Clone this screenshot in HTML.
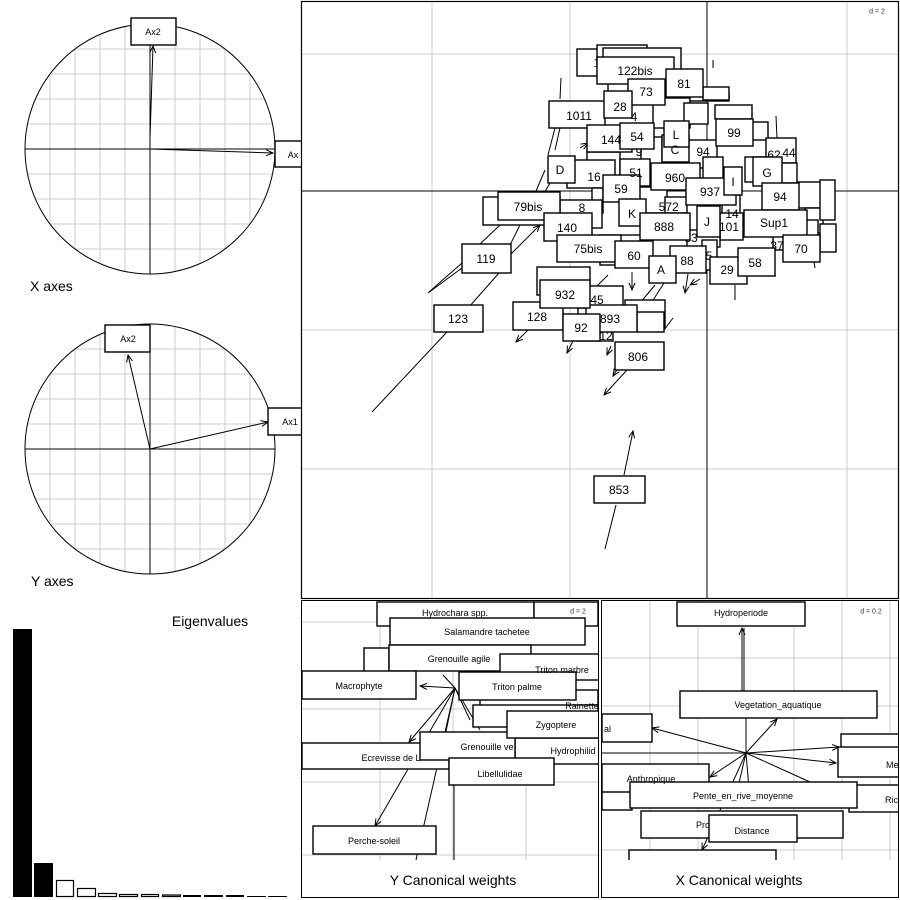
<!DOCTYPE html>
<html><head><meta charset="utf-8"><style>
html,body{margin:0;padding:0;background:#fff;}
svg{display:block;font-family:"Liberation Sans",sans-serif;}
.b{fill:#fff;stroke:#000;stroke-width:1.4}
.g{stroke:#ccc;stroke-width:1;fill:none}
.l{stroke:#000;stroke-width:1;fill:none}
.t{font-size:12px;text-anchor:middle;dominant-baseline:central}
.s{font-size:9px;text-anchor:middle;dominant-baseline:central}
</style></head><body>
<svg width="900" height="900" viewBox="0 0 900 900">
<defs>
<marker id="a" markerWidth="8" markerHeight="8" refX="7" refY="4" orient="auto" markerUnits="userSpaceOnUse"><path d="M0,1 L7,4 L0,7" fill="none" stroke="#000"/></marker>
<clipPath id="c1"><circle cx="150" cy="149" r="125"/></clipPath>
<clipPath id="c2"><circle cx="150" cy="449" r="125"/></clipPath>
<clipPath id="cm"><rect x="302" y="2" width="596" height="595"/></clipPath>
<clipPath id="cy"><rect x="302" y="601" width="296" height="259"/></clipPath>
<clipPath id="cx"><rect x="602" y="601" width="296" height="259"/></clipPath>
</defs>

<g clip-path="url(#c1)" class="g">
<path d="M50,0V300M75,0V300M100,0V300M125,0V300M175,0V300M200,0V300M225,0V300M250,0V300M0,49H300M0,74H300M0,99H300M0,124H300M0,174H300M0,199H300M0,224H300M0,249H300"/>
</g>
<circle cx="150" cy="149" r="125" class="l"/>
<path class="l" d="M25,149H275M150,24V274"/>
<line x1="150" y1="149" x2="273" y2="153" class="l" marker-end="url(#a)"/>
<line x1="150" y1="138" x2="153" y2="46" class="l" marker-end="url(#a)"/>
<rect x="131" y="18" width="45" height="27" class="b"/><text x="153" y="32" class="s">Ax2</text>
<rect x="275" y="141" width="30" height="26" class="b"/><text x="293" y="155" class="s">Ax</text>
<text x="30" y="286" font-size="14" dominant-baseline="central">X axes</text>

<g clip-path="url(#c2)" class="g">
<path d="M50,300V600M75,300V600M100,300V600M125,300V600M175,300V600M200,300V600M225,300V600M250,300V600M0,349H300M0,374H300M0,399H300M0,424H300M0,474H300M0,499H300M0,524H300M0,549H300"/>
</g>
<circle cx="150" cy="449" r="125" class="l"/>
<path class="l" d="M25,449H275M150,324V574"/>
<line x1="150" y1="449" x2="268" y2="422" class="l" marker-end="url(#a)"/>
<line x1="150" y1="449" x2="128" y2="355" class="l" marker-end="url(#a)"/>
<rect x="105" y="325" width="45" height="27" class="b"/><text x="128" y="339" class="s">Ax2</text>
<rect x="268" y="408" width="36" height="27" class="b"/><text x="290" y="422" class="s">Ax1</text>
<text x="31" y="581" font-size="14" dominant-baseline="central">Y axes</text>

<text x="210" y="621" font-size="14" text-anchor="middle" dominant-baseline="central">Eigenvalues</text>
<rect x="13" y="629" width="19" height="268" fill="#000"/>
<rect x="34" y="863" width="19" height="34" fill="#000"/>
<g fill="#fff" stroke="#000" stroke-width="1.2">
<rect x="56.5" y="880.5" width="17" height="16"/>
<rect x="77.5" y="888.5" width="18" height="8"/>
<rect x="98.5" y="893.5" width="18" height="3"/>
<rect x="119.5" y="894.5" width="18" height="2"/>
<rect x="141.5" y="894.5" width="17" height="2"/>
<rect x="162.5" y="895" width="18" height="1.5"/>
</g>
<g fill="#000"><rect x="183" y="895" width="18" height="2"/><rect x="204" y="895" width="19" height="2"/><rect x="226" y="895" width="18" height="2"/><rect x="247" y="896" width="19" height="1"/><rect x="268" y="896" width="19" height="1"/></g>

<rect x="301.5" y="1.5" width="597" height="597" fill="#fff" stroke="#000" stroke-width="1.2"/>
<path class="g" d="M432,2V598M570,2V598M847,2V598M302,54H898M302,330H898M302,469H898"/>
<path class="l" d="M707,2V598M302,191H898"/>
<text x="877" y="12" font-size="7" fill="#333" text-anchor="middle" dominant-baseline="central">d = 2</text>
<g clip-path="url(#cm)">
<g class="l">
<line x1="446" y1="333" x2="372" y2="412"/>
<line x1="499" y1="273" x2="446" y2="333"/>
<line x1="462" y1="263" x2="429" y2="292"/>
<line x1="462" y1="268" x2="428" y2="293"/>
<line x1="510" y1="255" x2="540" y2="225" marker-end="url(#a)"/>
<line x1="480" y1="244" x2="500" y2="225"/>
<line x1="510" y1="245" x2="520" y2="225"/>
<line x1="616" y1="505" x2="605" y2="549"/>
<line x1="624" y1="475" x2="633" y2="431" marker-end="url(#a)"/>
<line x1="550" y1="302" x2="514" y2="310"/>
<line x1="528" y1="330" x2="516" y2="342" marker-end="url(#a)"/>
<line x1="573" y1="341" x2="567" y2="353" marker-end="url(#a)"/>
<line x1="611" y1="346" x2="607" y2="355" marker-end="url(#a)"/>
<line x1="627" y1="370" x2="604" y2="395" marker-end="url(#a)"/>
<line x1="623" y1="360" x2="613" y2="376" marker-end="url(#a)"/>
<line x1="664" y1="330" x2="673" y2="318"/>
<line x1="688" y1="274" x2="685" y2="293" marker-end="url(#a)"/>
<line x1="700" y1="279" x2="690" y2="285" marker-end="url(#a)"/>
<line x1="632" y1="272" x2="632" y2="290" marker-end="url(#a)"/>
<line x1="664" y1="283" x2="650" y2="305"/>
<line x1="655" y1="285" x2="640" y2="303"/>
<line x1="735" y1="285" x2="735" y2="300"/>
<line x1="766" y1="276" x2="776" y2="276"/>
<line x1="814" y1="262" x2="815" y2="268"/>
<line x1="561" y1="78" x2="560" y2="99"/>
<line x1="713" y1="60" x2="713" y2="68"/>
<line x1="776" y1="116" x2="777" y2="138"/>
<line x1="555" y1="128" x2="548" y2="155"/>
<line x1="560" y1="128" x2="555" y2="150"/>
<line x1="545" y1="170" x2="536" y2="191"/>
<line x1="550" y1="183" x2="540" y2="200"/>
<line x1="600" y1="155" x2="606" y2="150" marker-end="url(#a)"/>
<line x1="580" y1="148" x2="588" y2="143" marker-end="url(#a)"/>
<line x1="608" y1="275" x2="595" y2="288"/>
</g>
<g class="b">
<rect x="577" y="49" width="40" height="27"/>
<rect x="597" y="45" width="50" height="20"/>
<rect x="603" y="48" width="78" height="26"/>
<rect x="608" y="76" width="22" height="22"/>
<rect x="653" y="98" width="37" height="30"/>
<rect x="684" y="103" width="24" height="21"/>
<rect x="690" y="93" width="39" height="8"/>
<rect x="703" y="87" width="26" height="13"/>
<rect x="715" y="105" width="37" height="14"/>
<rect x="752" y="122" width="16" height="18"/>
<rect x="766" y="138" width="30" height="25"/>
<rect x="745" y="157" width="28" height="25"/>
<rect x="781" y="163" width="16" height="20"/>
<rect x="797" y="182" width="25" height="26"/>
<rect x="805" y="208" width="18" height="25"/>
<rect x="820" y="224" width="16" height="28"/>
<rect x="641" y="137" width="21" height="28"/>
<rect x="688" y="140" width="29" height="28"/>
<rect x="703" y="157" width="20" height="30"/>
<rect x="587" y="152" width="33" height="25"/>
<rect x="567" y="160" width="48" height="28"/>
<rect x="592" y="188" width="11" height="25"/>
<rect x="638" y="187" width="29" height="26"/>
<rect x="665" y="197" width="22" height="16"/>
<rect x="722" y="195" width="18" height="32"/>
<rect x="720" y="213" width="23" height="27"/>
<rect x="687" y="230" width="33" height="17"/>
<rect x="702" y="240" width="15" height="30"/>
<rect x="537" y="267" width="53" height="28"/>
<rect x="573" y="286" width="50" height="20"/>
<rect x="625" y="300" width="40" height="28"/>
<rect x="637" y="312" width="27" height="20"/>
<rect x="578" y="308" width="35" height="33"/>
<rect x="483" y="197" width="77" height="28"/>
<rect x="560" y="200" width="42" height="28"/>
<rect x="600" y="235" width="45" height="30"/>
<rect x="773" y="220" width="45" height="30"/>
<rect x="820" y="180" width="15" height="40"/>
</g>
<g class="t" fill="#000">
<text x="597" y="63">1</text>
<text x="634" y="117">4</text>
<text x="639" y="152">9</text>
<text x="703" y="152">94</text>
<text x="774" y="155">62</text>
<text x="789" y="153">44</text>
<text x="662" y="207">5</text>
<text x="582" y="208">8</text>
<text x="732" y="214">14</text>
<text x="729" y="227">101</text>
<text x="691" y="238">83</text>
<text x="709" y="256">5</text>
<text x="777" y="246">37</text>
<text x="597" y="300">45</text>
<text x="606" y="336">12</text>
</g>
<g class="b">
<rect x="597" y="57" width="77" height="27"/>
<rect x="628" y="79" width="37" height="26"/>
<rect x="666" y="69" width="37" height="28"/>
<rect x="549" y="101" width="56" height="27"/>
<rect x="604" y="91" width="28" height="27"/>
<rect x="587" y="125" width="45" height="27"/>
<rect x="620" y="123" width="34" height="26"/>
<rect x="716" y="119" width="37" height="27"/>
<rect x="662" y="135" width="27" height="27"/>
<rect x="664" y="121" width="25" height="26"/>
<rect x="548" y="156" width="27" height="27"/>
<rect x="620" y="159" width="30" height="27"/>
<rect x="651" y="163" width="49" height="27"/>
<rect x="686" y="178" width="50" height="27"/>
<rect x="724" y="167" width="18" height="28"/>
<rect x="753" y="157" width="29" height="29"/>
<rect x="762" y="183" width="37" height="27"/>
<rect x="603" y="175" width="37" height="27"/>
<rect x="498" y="192" width="62" height="28"/>
<rect x="619" y="199" width="27" height="27"/>
<rect x="640" y="213" width="50" height="27"/>
<rect x="544" y="213" width="48" height="28"/>
<rect x="697" y="206" width="23" height="31"/>
<rect x="744" y="210" width="63" height="27"/>
<rect x="557" y="235" width="64" height="27"/>
<rect x="615" y="241" width="38" height="27"/>
<rect x="670" y="246" width="36" height="27"/>
<rect x="710" y="257" width="37" height="27"/>
<rect x="738" y="248" width="37" height="28"/>
<rect x="783" y="235" width="37" height="27"/>
<rect x="649" y="256" width="27" height="27"/>
<rect x="462" y="244" width="49" height="29"/>
<rect x="434" y="305" width="49" height="27"/>
<rect x="513" y="302" width="50" height="28"/>
<rect x="586" y="305" width="51" height="27"/>
<rect x="540" y="280" width="50" height="28"/>
<rect x="563" y="314" width="37" height="27"/>
<rect x="615" y="342" width="49" height="28"/>
<rect x="594" y="476" width="51" height="27"/>
</g>
<g class="t" fill="#000">
<text x="635" y="71">122bis</text>
<text x="646" y="92">73</text>
<text x="684" y="84">81</text>
<text x="579" y="116">1011</text>
<text x="620" y="107">28</text>
<text x="611" y="140">144</text>
<text x="637" y="137">54</text>
<text x="734" y="133">99</text>
<text x="675" y="150">C</text>
<text x="676" y="135">L</text>
<text x="560" y="170">D</text>
<text x="594" y="177">16</text>
<text x="636" y="173">51</text>
<text x="675" y="178">960</text>
<text x="710" y="192">937</text>
<text x="733" y="182">I</text>
<text x="767" y="173">G</text>
<text x="780" y="197">94</text>
<text x="621" y="189">59</text>
<text x="528" y="207">79bis</text>
<text x="632" y="214">K</text>
<text x="672" y="207">72</text>
<text x="664" y="227">888</text>
<text x="567" y="228">140</text>
<text x="707" y="222">J</text>
<text x="774" y="223">Sup1</text>
<text x="588" y="249">75bis</text>
<text x="634" y="256">60</text>
<text x="687" y="261">88</text>
<text x="727" y="270">29</text>
<text x="755" y="263">58</text>
<text x="801" y="249">70</text>
<text x="661" y="270">A</text>
<text x="486" y="259">119</text>
<text x="458" y="319">123</text>
<text x="537" y="317">128</text>
<text x="610" y="319">893</text>
<text x="565" y="295">932</text>
<text x="581" y="328">92</text>
<text x="638" y="357">806</text>
<text x="619" y="490">853</text>
</g>
</g>

<rect x="301.5" y="600.5" width="297" height="297" fill="#fff" stroke="#000" stroke-width="1"/>
<g clip-path="url(#cy)">
<path class="g" d="M380,601V860M453,601V860M526,601V860M302,622H598M302,709H598M302,782H598M302,855H598"/>
<g class="l">
<line x1="455" y1="688" x2="420" y2="686" marker-end="url(#a)"/>
<line x1="455" y1="688" x2="409" y2="742" marker-end="url(#a)"/>
<line x1="455" y1="688" x2="375" y2="826" marker-end="url(#a)"/>
<line x1="455" y1="688" x2="416" y2="860"/>
<line x1="455" y1="688" x2="440" y2="760"/>
<line x1="455" y1="688" x2="480" y2="730"/>
<line x1="455" y1="688" x2="470" y2="720"/>
<line x1="454" y1="785" x2="454" y2="860"/>
<line x1="455" y1="688" x2="443" y2="675"/>
</g>
<g class="b">
<rect x="377" y="602" width="157" height="24"/>
<rect x="534" y="602" width="64" height="24"/>
<rect x="390" y="618" width="195" height="27"/>
<rect x="364" y="648" width="25" height="24"/>
<rect x="389" y="645" width="142" height="26"/>
<rect x="500" y="654" width="99" height="26"/>
<rect x="302" y="671" width="114" height="28"/>
<rect x="480" y="690" width="118" height="30"/>
<rect x="473" y="705" width="125" height="22"/>
<rect x="459" y="672" width="117" height="28"/>
<rect x="302" y="743" width="147" height="26"/>
<rect x="515" y="738" width="84" height="26"/>
<rect x="420" y="732" width="95" height="28"/>
<rect x="507" y="711" width="92" height="27"/>
<rect x="449" y="758" width="105" height="27"/>
<rect x="313" y="826" width="123" height="28"/>
</g>
<g class="s" fill="#000">
<text x="455" y="613">Hydrochara spp.</text>
<text x="487" y="632">Salamandre tachetee</text>
<text x="459" y="659">Grenouille agile</text>
<text x="562" y="670">Triton marbre</text>
<text x="359" y="686">Macrophyte</text>
<text x="517" y="687">Triton palme</text>
<text x="582" y="706">Rainette</text>
<text x="391" y="758">Ecrevisse de L</text>
<text x="573" y="751">Hydrophilid</text>
<text x="487" y="747">Grenouille ve</text>
<text x="556" y="725">Zygoptere</text>
<text x="500" y="774">Libellulidae</text>
<text x="374" y="841">Perche-soleil</text>
</g>
</g>
<text x="578" y="612" font-size="7" fill="#333" text-anchor="middle" dominant-baseline="central">d = 2</text>
<text x="453" y="880" font-size="14" text-anchor="middle" dominant-baseline="central">Y Canonical weights</text>

<rect x="601.5" y="600.5" width="297" height="297" fill="#fff" stroke="#000" stroke-width="1"/>
<g clip-path="url(#cx)">
<path class="g" d="M650,601V860M698,601V860M794,601V860M842,601V860M890,601V860M602,658H898M602,706H898M602,802H898M602,850H898"/>
<g class="l">
<line x1="742" y1="691" x2="742" y2="628" marker-end="url(#a)"/>
<line x1="744" y1="691" x2="744" y2="628"/>
<line x1="746" y1="753" x2="777" y2="719" marker-end="url(#a)"/>
<line x1="746" y1="753" x2="652" y2="728" marker-end="url(#a)"/>
<line x1="746" y1="753" x2="839" y2="747" marker-end="url(#a)"/>
<line x1="746" y1="753" x2="836" y2="763" marker-end="url(#a)"/>
<line x1="746" y1="753" x2="710" y2="777" marker-end="url(#a)"/>
<line x1="746" y1="753" x2="702" y2="850" marker-end="url(#a)"/>
<line x1="746" y1="753" x2="735" y2="800"/>
<line x1="746" y1="753" x2="750" y2="800"/>
<line x1="746" y1="753" x2="810" y2="782"/>
<line x1="746" y1="718" x2="746" y2="753"/>
<line x1="602" y1="753" x2="746" y2="753"/>
</g>
<g class="b">
<rect x="677" y="602" width="128" height="24"/>
<rect x="680" y="691" width="197" height="27"/>
<rect x="602" y="714" width="50" height="28"/>
<rect x="841" y="734" width="59" height="28"/>
<rect x="838" y="747" width="62" height="30"/>
<rect x="602" y="777" width="30" height="33"/>
<rect x="602" y="764" width="107" height="28"/>
<rect x="849" y="785" width="51" height="27"/>
<rect x="630" y="782" width="227" height="26"/>
<rect x="641" y="811" width="202" height="27"/>
<rect x="709" y="815" width="88" height="27"/>
<rect x="629" y="850" width="147" height="20"/>
</g>
<g class="s" fill="#000">
<text x="741" y="613">Hydroperiode</text>
<text x="778" y="705">Vegetation_aquatique</text>
<text x="604" y="729" text-anchor="start">al</text>
<text x="886" y="765" text-anchor="start">Me</text>
<text x="651" y="779">Anthropique</text>
<text x="743" y="796">Pente_en_rive_moyenne</text>
<text x="885" y="800" text-anchor="start">Ric</text>
<text x="696" y="825" text-anchor="start">Pro</text>
<text x="752" y="831">Distance</text>
</g>
</g>
<text x="871" y="612" font-size="7" fill="#333" text-anchor="middle" dominant-baseline="central">d = 0.2</text>
<text x="739" y="880" font-size="14" text-anchor="middle" dominant-baseline="central">X Canonical weights</text>
</svg>
</body></html>
